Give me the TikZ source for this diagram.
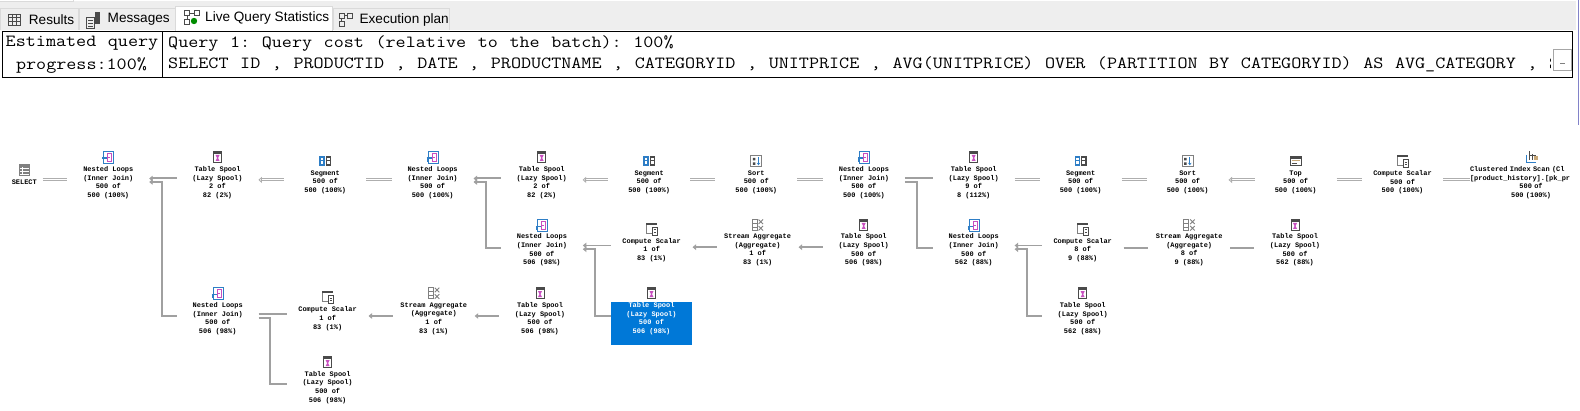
\documentclass[tikz,border=0pt]{standalone}
\usepackage{fontspec}
\usetikzlibrary{arrows.meta}
\setmainfont{Liberation Sans}
\newfontfamily\planfont{Liberation Mono}
\newfontfamily\headfont[FakeStretch=1.15,WordSpace=1.15]{Latin Modern Mono}
\definecolor{linegray}{HTML}{A0A0A0}
\definecolor{tabgray}{HTML}{EEEEEE}
\definecolor{tabedge}{HTML}{DADADA}
\definecolor{selblue}{HTML}{0078D7}
\definecolor{iconblue}{HTML}{2E7EC6}
\definecolor{iconpink}{HTML}{C84FC0}
\definecolor{icondark}{HTML}{4A4A4A}
\definecolor{icontan}{HTML}{C8A878}
\frenchspacing
\tikzset{
  opbox/.style={inner sep=0pt,minimum width=81.4pt,align=center,text=black,
    font=\planfont\bfseries\fontsize{6.95}{8.7}\selectfont},
  headtext/.style={inner sep=0pt,anchor=west,font=\headfont\fontsize{17}{17}\selectfont},
  tabtext/.style={inner sep=0pt,anchor=west,font=\fontsize{13.6}{14}\selectfont},
  thickconn/.style={draw=linegray,line width=2pt},
  thinconn/.style={draw=linegray,line width=1pt},
  hollowconn/.style={draw=linegray!85,line width=.9pt,double=white,double distance=1.1pt},
  tipped/.style={{Triangle[length=3.5pt,width=5.5pt,fill=linegray]}-},
  hollowtipped/.style={{Triangle[open,length=3.5pt,width=6pt,fill=white]}-},
  pics/nl/.style={code={
    \draw[iconblue,line width=.9pt,fill=white] (-4.5,-6) rectangle (5.5,6);
    \draw[iconpink,line width=.9pt] (-.5,-4) rectangle (3.5,4);
    \draw[iconpink,line width=.7pt] (-.5,0) -- (2,0);
    \draw[iconblue,line width=1.1pt] (-6,1) -- (-1,1);
    \draw[iconblue,line width=1pt] (-5,1) -- (-5,5);}},
  pics/ts/.style={code={
    \draw[icondark,line width=.9pt,fill=white] (-4,-5.5) rectangle (4,5.5);
    \fill[icondark] (-4,-5.5) rectangle (4,-3);
    \fill[iconpink] (-2,-2) -- (2,-2) -- (.5,1) -- (2,4) -- (-2,4) -- (-.5,1) -- cycle;}},
  pics/seg/.style={code={
    \fill[iconblue] (-6,-5) rectangle (-.4,5);
    \fill[icondark] (.4,-5) rectangle (6,5);
    \foreach \xx in {-3.2,3.2} \foreach \yy in {-2.4,1.4}
      \fill[white] (\xx-1.4,\yy-1.2) rectangle (\xx+1.4,\yy+1.2);}},
  pics/sort/.style={code={
    \draw[gray,line width=1pt,fill=white] (-5.5,-5.5) rectangle (5.5,5.5);
    \fill[icondark] (-3.5,-3.5) rectangle (-1,-1) (-3.5,1) rectangle (-1,3.5);
    \draw[iconblue,line width=1.1pt,-{Stealth[length=2.5pt,width=3.5pt]}] (2.2,-3.8) -- (2.2,4);}},
  pics/cs/.style={code={
    \draw[gray,line width=.9pt] (-5.5,-5) -- (-5.5,4.5) -- (0,4.5);
    \fill[icondark] (-5.5,-6) rectangle (5.5,-4);
    \draw[icondark,line width=.9pt,fill=white] (.5,-1.5) rectangle (5.5,6);
    \draw[icondark,line width=.7pt] (2,.8) -- (4,.8) (2,3) -- (4,3);}},
  pics/sa/.style={code={
    \draw[gray,line width=1pt] (-5.5,-5.5) rectangle (-.5,5.5);
    \draw[gray,line width=.7pt] (-5.5,-2) -- (-.5,-2) (-5.5,2) -- (-.5,2);
    \draw[gray,line width=.9pt] (1,-5.5) -- (5.5,-1) (5.5,-5.5) -- (1,-1) (1,1) -- (5.5,5.5) (5.5,1) -- (1,5.5);}},
  pics/topop/.style={code={
    \draw[icondark,line width=1pt,fill=white] (-5.5,-4.5) rectangle (5.5,4.5);
    \fill[icondark] (-5.5,-4.5) rectangle (5.5,-2.5);
    \draw[icontan,line width=.9pt] (-4,-.5) -- (4,-.5);
    \draw[icondark,line width=.9pt] (-4,2.2) -- (1,2.2);}},
  pics/sel/.style={code={
    \fill[icondark!70] (-5.5,-6) rectangle (5.5,6);
    \foreach \yy in {-2.4,.6,3.6} \draw[white,line width=.8pt] (-4.5,\yy) -- (4.5,\yy);
    \draw[white,line width=.8pt] (-1.5,-3.5) -- (-1.5,5);}},
  pics/ci/.style={code={
    \draw[iconblue,line width=.9pt] (-5.5,-2) -- (-5.5,5.5) -- (4,5.5);
    \draw[icondark,line width=.9pt] (-2.5,-6) -- (-2.5,3) (.5,-3) -- (.5,3) (-2.5,-2) -- (4,-2);
    \fill[icontan] (2.5,-1) rectangle (6,3);}}
}
% \op{name}{icon}{x}{icon y}{text centre y}{lines}
\newcommand{\op}[6]{%
  \pic at (#3,#4) {#2};
  \node[opbox] (#1) at (#3,#5) {#6};}
\begin{document}
\begin{tikzpicture}[x=1pt,y=-1pt]
\useasboundingbox (0,0) rectangle (1580,411);
\fill[white] (0,0) rectangle (1580,411);
% tab strip
\fill[tabgray] (0,1.5) rectangle (1576,30);
\draw[tabedge,line width=.8pt] (0,1.5) -- (73,1.5) -- (73,0);
\draw[tabedge,fill=tabgray,line width=.8pt] (.7,30) -- (.7,8.8) -- (78,8.8) -- (78,30);
\draw[tabedge,fill=tabgray,line width=.8pt] (79,30) -- (79,8.8) -- (175,8.8) -- (175,30);
\draw[tabedge,fill=tabgray,line width=.8pt] (333,30) -- (333,8.8) -- (449.6,8.8) -- (449.6,30);
\draw[tabedge,fill=white,line width=.8pt] (175.8,31) -- (175.8,6.8) -- (332,6.8) -- (332,31);
\node[tabtext] (tabresults) at (28.7,19.6) {Results};
\node[tabtext] (tabmessages) at (107.5,19.6) {Messages};
\node[tabtext] (tablive) at (205,17.6) {Live Query Statistics};
\node[tabtext] (tabplan) at (359.4,19.6) {Execution plan};
% tab icons
\draw[icondark,line width=.8pt] (8.5,14) rectangle (20.5,25) (8.5,17.5) -- (20.5,17.5) (8.5,21) -- (20.5,21) (12.5,14) -- (12.5,25) (16.5,14) -- (16.5,25);
\draw[icondark,line width=.8pt] (86.5,17) rectangle (94,28);
\draw[icondark,line width=.7pt] (88,20) -- (92.5,20) (88,23) -- (92.5,23) (88,26) -- (92.5,26);
\fill[icondark] (95,12.5) rectangle (100,24);
\draw[icondark,line width=.9pt] (184.5,10.5) rectangle (189.5,15.5) (194.5,10.5) rectangle (199.5,15.5) (184.5,19) rectangle (189.5,24);
\draw[icondark,line width=.9pt] (189.5,13) -- (194.5,13) (187,15.5) -- (187,19);
\fill[green!55!black] (194,21) circle (3.2);
\draw[icondark,line width=.9pt] (339,13) rectangle (344,18) (347.5,13) rectangle (352,18) (339,21.5) rectangle (344,26);
\draw[icondark,line width=.9pt] (344,15.5) -- (347.5,15.5) (341.5,18) -- (341.5,21.5);
% query header
\draw[black,line width=1pt,fill=white] (2.7,31.8) rectangle (1572.6,77.4);
\draw[black,line width=1pt] (162.6,31.8) -- (162.6,77.4);
\node[headtext,anchor=center] (esta) at (82,43) {Estimated query};
\node[headtext,anchor=center] (estb) at (81.5,65.5) {progress:100\%};
\node[headtext] (qa) at (168,44) {Query 1: Query cost (relative to the batch): 100\%};
\node[headtext] (qb) at (168,64) {SELECT ID , PRODUCTID , DATE , PRODUCTNAME , CATEGORYID , UNITPRICE , AVG(UNITPRICE) OVER (PARTITION BY CATEGORYID) AS AVG\_CATEGORY , S};
\fill[white] (1551,32.5) rectangle (1572,76.9);
\draw[gray!70,line width=.8pt,fill=white] (1553.8,49.2) rectangle (1571.6,70.3);
\draw[gray,line width=.8pt] (1560,63.6) -- (1565,63.6);
\draw[gray!60!blue!70,line width=1pt] (1578,0) -- (1578,125);
% selected box
\node[fill=selblue,inner sep=0pt,minimum width=80.8pt,minimum height=42.6pt] (selbox) at (651.5,323.6) {};
% operators: row 1
\node[opbox,minimum width=36pt] (select) at (24.3,182.3) {SELECT};
\pic at (24.3,170.4) {sel};
\op{nla}{nl}{108.3}{157}{182.6}{Nested Loops\\(Inner Join)\\500 of\\500 (100\%)}
\op{tsa}{ts}{217.5}{157}{182.6}{Table Spool\\(Lazy Spool)\\2 of\\82 (2\%)}
\op{sega}{seg}{325.2}{161.3}{182.3}{Segment\\500 of\\500 (100\%)}
\op{nlb}{nl}{432.6}{157}{182.6}{Nested Loops\\(Inner Join)\\500 of\\500 (100\%)}
\op{tsb}{ts}{541.7}{157}{182.6}{Table Spool\\(Lazy Spool)\\2 of\\82 (2\%)}
\op{segb}{seg}{649.1}{161.3}{182.3}{Segment\\500 of\\500 (100\%)}
\op{sorta}{sort}{756.3}{161.3}{182.3}{Sort\\500 of\\500 (100\%)}
\op{nlc}{nl}{863.9}{157}{182.6}{Nested Loops\\(Inner Join)\\500 of\\500 (100\%)}
\op{tsc}{ts}{973.7}{157}{182.6}{Table Spool\\(Lazy Spool)\\9 of\\8 (112\%)}
\op{segc}{seg}{1080.6}{161.3}{182.3}{Segment\\500 of\\500 (100\%)}
\op{sortb}{sort}{1187.6}{161.3}{182.3}{Sort\\500 of\\500 (100\%)}
\op{topa}{topop}{1295.6}{161.3}{182.3}{Top\\500 of\\500 (100\%)}
\op{csa}{cs}{1402.5}{161.3}{182.3}{Compute Scalar\\500 of\\500 (100\%)}
\pic at (1531.7,157) {ci};
\node[opbox,minimum width=122pt,text width=122pt] (cia) at (1531,182.6) {\makebox[122pt][l]{Clustered Index Scan (Cl}\\\makebox[122pt][l]{[product\_history].[pk\_pr}\\500 of\\500 (100\%)};
% row 2
\op{nld}{nl}{541.9}{225.2}{250}{Nested Loops\\(Inner Join)\\500 of\\506 (98\%)}
\op{csb}{cs}{651.6}{229}{250}{Compute Scalar\\1 of\\83 (1\%)}
\op{saa}{sa}{757.6}{225}{250}{Stream Aggregate\\(Aggregate)\\1 of\\83 (1\%)}
\op{tsd}{ts}{863.7}{225}{250}{Table Spool\\(Lazy Spool)\\500 of\\506 (98\%)}
\op{nle}{nl}{973.7}{225.2}{250}{Nested Loops\\(Inner Join)\\500 of\\562 (88\%)}
\op{csc}{cs}{1082.7}{229}{250}{Compute Scalar\\8 of\\9 (88\%)}
\op{sab}{sa}{1189.2}{225}{250}{Stream Aggregate\\(Aggregate)\\8 of\\9 (88\%)}
\op{tse}{ts}{1295}{225}{250}{Table Spool\\(Lazy Spool)\\500 of\\562 (88\%)}
% row 3
\op{nlf}{nl}{217.7}{293.2}{318.7}{Nested Loops\\(Inner Join)\\500 of\\506 (98\%)}
\op{csd}{cs}{327.6}{297.2}{318.7}{Compute Scalar\\1 of\\83 (1\%)}
\op{sac}{sa}{433.8}{293.2}{318.7}{Stream Aggregate\\(Aggregate)\\1 of\\83 (1\%)}
\op{tsf}{ts}{540}{293.2}{318.7}{Table Spool\\(Lazy Spool)\\500 of\\506 (98\%)}
\op{tsg}{ts}{651.5}{293.2}{318.7}{\color{white}Table Spool\\\color{white}(Lazy Spool)\\\color{white}500 of\\\color{white}506 (98\%)}
\op{tsh}{ts}{1082.7}{293.2}{318.7}{Table Spool\\(Lazy Spool)\\500 of\\562 (88\%)}
% row 4
\op{tsi}{ts}{327.6}{362.1}{387.5}{Table Spool\\(Lazy Spool)\\500 of\\506 (98\%)}
% connectors
\draw[hollowconn] ([yshift=2.4]select.east) -- ([yshift=2.7]nla.west);
\draw[thickconn,tipped] ([yshift=4.1]nla.east) -- ([yshift=4.1]tsa.west);
\draw[thickconn,tipped] ([yshift=.6]nla.east) -- ++(12.5,0) |- ([yshift=2.2]nlf.west);
\draw[hollowconn,hollowtipped] ([yshift=2.7]tsa.east) -- ([yshift=2.4]sega.west);
\draw[hollowconn] ([yshift=2.4]sega.east) -- ([yshift=2.7]nlb.west);
\draw[thickconn,tipped] ([yshift=4.1]nlb.east) -- ([yshift=4.1]tsb.west);
\draw[thickconn,tipped] ([yshift=.6]nlb.east) -- ++(12.5,0) |- ([yshift=1.8]nld.west);
\draw[hollowconn,hollowtipped] ([yshift=2.7]tsb.east) -- ([yshift=2.4]segb.west);
\draw[hollowconn] ([yshift=2.4]segb.east) -- ([yshift=2.4]sorta.west);
\draw[hollowconn] ([yshift=2.4]sorta.east) -- ([yshift=2.7]nlc.west);
\draw[thickconn] ([yshift=4.1]nlc.east) -- ([yshift=4.1]tsc.west);
\draw[thickconn] ([yshift=.6]nlc.east) -- ++(12.1,0) |- ([yshift=1.8]nle.west);
\draw[hollowconn] ([yshift=2.7]tsc.east) -- ([yshift=2.4]segc.west);
\draw[hollowconn] ([yshift=2.4]segc.east) -- ([yshift=2.4]sortb.west);
\draw[hollowconn,hollowtipped] ([yshift=2.4]sortb.east) -- ([yshift=2.4]topa.west);
\draw[hollowconn] ([yshift=2.4]topa.east) -- ([yshift=2.4]csa.west);
\draw[hollowconn] ([yshift=2.4]csa.east) -- ([yshift=2.7]cia.west);
\draw[thinconn,tipped] ([yshift=4.5]nld.east) -- ([yshift=4.5]csb.west);
\draw[thickconn,tipped] ([yshift=.8]nld.east) -- ++(12.5,0) |- ([yshift=7.1]selbox.west);
\draw[thickconn,tipped] ([yshift=2.8]csb.east) -- ([yshift=2.8]saa.west);
\draw[thickconn,tipped] ([yshift=2.8]saa.east) -- ([yshift=2.8]tsd.west);
\draw[thinconn,tipped] ([yshift=4.5]nle.east) -- ([yshift=4.5]csc.west);
\draw[thickconn,tipped] ([yshift=.8]nle.east) -- ++(12,0) |- ([yshift=2.2]tsh.west);
\draw[thickconn] ([yshift=1.8]csc.east) -- ([yshift=1.8]sab.west);
\draw[thickconn] ([yshift=1.8]sab.east) -- ([yshift=1.8]tse.west);
\draw[thickconn] ([yshift=4.2]nlf.east) -- ([yshift=4.2]csd.west);
\draw[thickconn] ([yshift=.9]nlf.east) -- ++(11.5,0) |- ([yshift=3.1]tsi.west);
\draw[thickconn,tipped] ([yshift=2.7]csd.east) -- ([yshift=2.7]sac.west);
\draw[thickconn,tipped] ([yshift=2.7]sac.east) -- ([yshift=2.7]tsf.west);
\end{tikzpicture}
\end{document}
